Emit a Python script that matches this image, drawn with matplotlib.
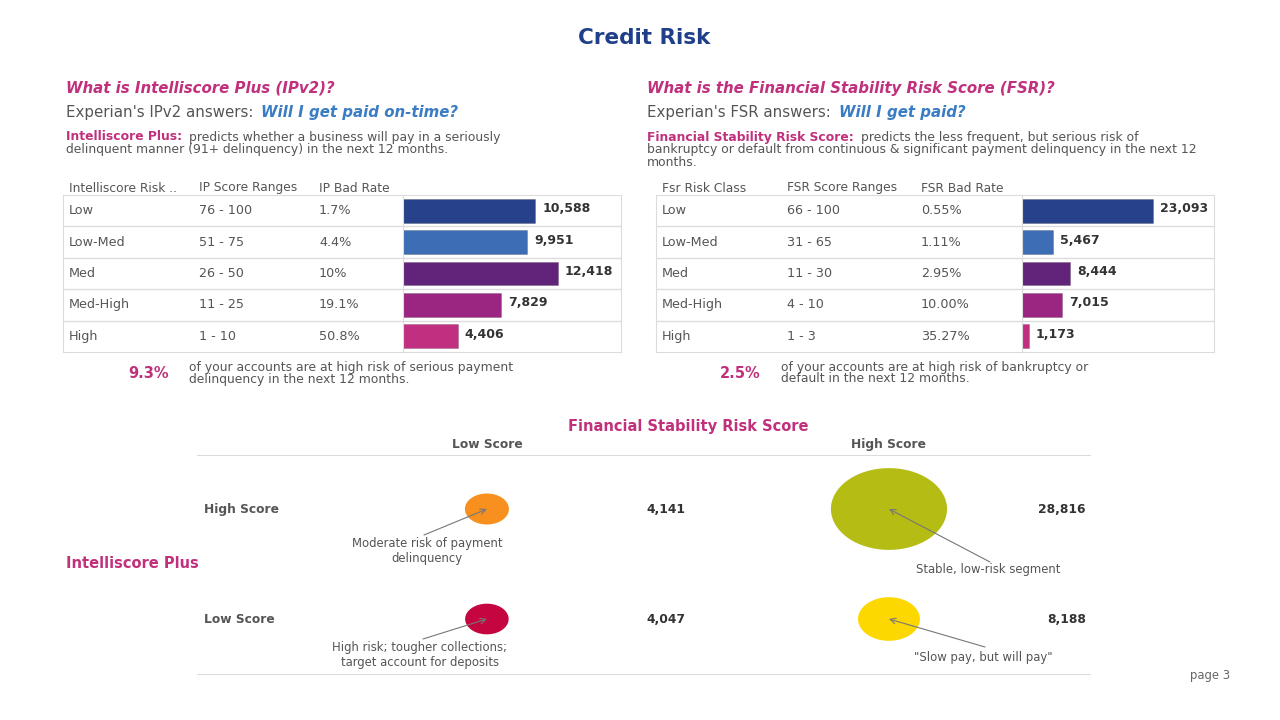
import matplotlib
matplotlib.use("Agg")
import matplotlib.pyplot as plt
from matplotlib.path import Path
from matplotlib.markers import MarkerStyle
import numpy as np

plt.rcParams["font.family"] = ["DejaVu Sans"]

W, H = 1280, 720

# ---- data ----
ip_classes = ["Low", "Low-Med", "Med", "Med-High", "High"]
ip_ranges = ["76 - 100", "51 - 75", "26 - 50", "11 - 25", "1 - 10"]
ip_bad_rates = ["1.7%", "4.4%", "10%", "19.1%", "50.8%"]
ip_counts = [10588, 9951, 12418, 7829, 4406]

fsr_classes = ["Low", "Low-Med", "Med", "Med-High", "High"]
fsr_ranges = ["66 - 100", "31 - 65", "11 - 30", "4 - 10", "1 - 3"]
fsr_bad_rates = ["0.55%", "1.11%", "2.95%", "10.00%", "35.27%"]
fsr_counts = [23093, 5467, 8444, 7015, 1173]

ip_high_risk_pct = "9.3%"
fsr_high_risk_pct = "2.5%"

# bubble matrix: columns = FSR (Low, High), rows = IP (High, Low)
fsr_cols = ["Low Score", "High Score"]
ip_rows = ["High Score", "Low Score"]
matrix_counts = [[4141, 28816],
                 [4047, 8188]]
matrix_notes = [["Moderate risk of payment\ndelinquency", "Stable, low-risk segment"],
                ["High risk; tougher collections;\ntarget account for deposits", "\"Slow pay, but will pay\""]]

bar_colors = ["#27418a", "#3d6db5", "#62237a", "#9b2682", "#c02f80"]
bubble_colors = [["#f7901e", "#b5bd14"], ["#c4053f", "#fdd700"]]

MAGENTA = "#c1307c"
NAVY = "#1f3f8a"
BLUE = "#3b7dc4"
GRAY = "#555555"
DARK = "#333333"
LINE = "#dcdcdc"

fig = plt.figure(figsize=(12.8, 7.2), dpi=100, facecolor="white")


def box(x0, y0, x1, y1):
    """pixel box (top-left origin) -> figure rect"""
    return [x0 / W, 1 - y1 / H, (x1 - x0) / W, (y1 - y0) / H]


canvas = fig.add_axes([0, 0, 1, 1])
canvas.set_xlim(0, W)
canvas.set_ylim(H, 0)
canvas.axis("off")
renderer = fig.canvas.get_renderer()


def run_text(x, y, parts, size, gap=5):
    """draw consecutive text pieces on one line"""
    for txt, kw in parts:
        t = canvas.text(x, y, txt, fontsize=size, va="center", ha="left", **kw)
        bb = t.get_window_extent(renderer)
        x += bb.width + gap


canvas.text(644, 38, "Credit Risk", fontsize=15.5, fontweight="bold", color=NAVY,
            ha="center", va="center")


def panel(x, heading, acronym, question, lead, desc_lines, header, classes, ranges, rates,
          counts, tbl, cols_x, bar_x, xmax, pct, pct_x, pct_lines):
    canvas.text(x, 88, heading, fontsize=10.8, fontweight="bold", fontstyle="italic",
                color=MAGENTA, va="center")
    run_text(x, 113, [(f"Experian's {acronym} answers:", dict(color=GRAY)),
                      (question, dict(color=BLUE, fontweight="bold", fontstyle="italic"))],
             10.8, gap=8)
    run_text(x, 137, [(lead, dict(color=MAGENTA, fontweight="bold")),
                      (desc_lines[0], dict(color=GRAY))], 8.9, gap=7)
    for i, line in enumerate(desc_lines[1:]):
        canvas.text(x, 150 + 12.5 * i, line, fontsize=8.9, color=GRAY, va="center")

    x0, x1 = tbl
    ax = fig.add_axes(box(x0, 195, x1, 352))
    ax.set_xlim(x0, x1)
    ax.set_ylim(len(classes) - 0.5, -0.5)
    ax.set_xticks([])
    ax.set_yticks([])
    for s in ax.spines.values():
        s.set_color(LINE)
    for k in range(1, len(classes)):
        ax.axhline(k - 0.5, color=LINE, lw=1)
    for i in range(len(classes)):
        for cx, val in zip(cols_x, (classes[i], ranges[i], rates[i])):
            ax.text(cx, i, val, fontsize=9.2, color=GRAY, va="center")
    for cx, hd in zip(cols_x, header):
        canvas.text(cx, 188, hd, fontsize=8.8, color=GRAY, va="center")

    bx = fig.add_axes(box(bar_x, 195, x1, 352))
    bx.patch.set_alpha(0)
    y = np.arange(len(counts))
    bx.barh(y, counts, height=0.76, color=bar_colors, edgecolor="#00000030", lw=0.6)
    bx.set_xlim(0, xmax)
    bx.set_ylim(len(counts) - 0.5, -0.5)
    bx.set_xticks([])
    bx.set_yticks([])
    for name, s in bx.spines.items():
        s.set_visible(name == "left")
        s.set_color(LINE)
    for yi, v in zip(y, counts):
        bx.annotate(f"{v:,}", (v, yi), xytext=(5, 1.5), textcoords="offset points",
                    fontsize=9, fontweight="bold", color=DARK, va="center")

    canvas.text(pct_x, 373, pct, fontsize=10.5, fontweight="bold", color=MAGENTA, va="center")
    for i, line in enumerate(pct_lines):
        canvas.text(pct_x + 61, 367 + 12 * i, line, fontsize=8.9, color=GRAY, va="center")


panel(66, "What is Intelliscore Plus (IPv2)?", "IPv2", "Will I get paid on-time?",
      "Intelliscore Plus:",
      ["predicts whether a business will pay in a seriously",
       "delinquent manner (91+ delinquency) in the next 12 months."],
      ["Intelliscore Risk ..", "IP Score Ranges", "IP Bad Rate"],
      ip_classes, ip_ranges, ip_bad_rates, ip_counts, (63, 621), [69, 199, 319],
      403, 17466, ip_high_risk_pct, 128,
      ["of your accounts are at high risk of serious payment",
       "delinquency in the next 12 months."])

panel(647, "What is the Financial Stability Risk Score (FSR)?", "FSR", "Will I get paid?",
      "Financial Stability Risk Score:",
      ["predicts the less frequent, but serious risk of",
       "bankruptcy or default from continuous & significant payment delinquency in the next 12",
       "months."],
      ["Fsr Risk Class", "FSR Score Ranges", "FSR Bad Rate"],
      fsr_classes, fsr_ranges, fsr_bad_rates, fsr_counts, (656, 1214), [662, 787, 921],
      1022, 33846, fsr_high_risk_pct, 720,
      ["of your accounts are at high risk of bankruptcy or",
       "default in the next 12 months."])

# ---- bubble matrix ----
canvas.text(688, 426, "Financial Stability Risk Score", fontsize=10.5, fontweight="bold",
            color=MAGENTA, ha="center", va="center")
canvas.text(66, 563, "Intelliscore Plus", fontsize=10.5, fontweight="bold",
            color=MAGENTA, va="center")

mx = fig.add_axes(box(197, 455, 1090, 674))
mx.patch.set_alpha(0)
mx.set_xlim(-0.721, 1.5)
mx.set_ylim(1.5, -0.491)
for name, s in mx.spines.items():
    s.set_visible(name in ("top", "bottom"))
    s.set_color(LINE)
mx.set_yticks([])
mx.set_xticks(range(len(fsr_cols)))
mx.set_xticklabels(fsr_cols, fontsize=8.8, fontweight="bold", color=GRAY)
mx.xaxis.tick_top()
mx.tick_params(axis="x", length=0, pad=3)

# bubbles in the reference are wider than tall
t = np.linspace(0, 2 * np.pi, 73)
oval = MarkerStyle(Path(np.column_stack([1.42 * np.cos(t), np.sin(t)]), closed=True))

num_x = [0.495, 1.49]
for r, row in enumerate(ip_rows):
    mx.text(-0.704, r, row, fontsize=8.8, fontweight="bold", color=GRAY, va="center")
    for c in range(len(fsr_cols)):
        v = matrix_counts[r][c]
        mx.scatter(c, r, s=v * 0.2427, marker=oval, color=bubble_colors[r][c],
                   edgecolors="none", zorder=2, clip_on=False)
        mx.text(num_x[c], r, f"{v:,}", fontsize=8.8, fontweight="bold", color=DARK,
                ha="right", va="center")

# note positions (pixels): text centre, arrow start
note_pos = [[((427, 551), (424, 535)), ((988, 570), (990, 562))],
            [((420, 655), (423, 639)), ((983, 658), (985, 647))]]
for r in range(2):
    for c in range(2):
        (tx, ty), (ax0, ay0) = note_pos[r][c]
        canvas.text(tx, ty, matrix_notes[r][c], fontsize=8.4, color=GRAY, ha="center",
                    va="center", linespacing=1.15)
        mx.annotate("", xy=(c, r), xytext=(ax0, ay0), textcoords=canvas.transData,
                    arrowprops=dict(arrowstyle="->", color="#777777", lw=0.8,
                                    shrinkA=0, shrinkB=0), zorder=3)

canvas.text(1210, 675, "page 3", fontsize=8.4, color="#666666", ha="center", va="center")

fig.savefig("out.png", dpi=100, facecolor="white")
